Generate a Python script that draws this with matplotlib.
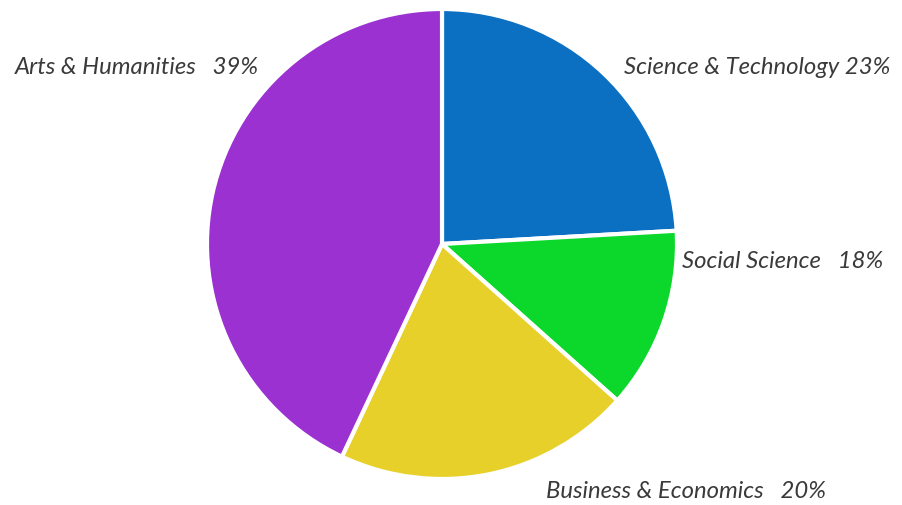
import matplotlib
matplotlib.use("Agg")
import matplotlib.pyplot as plt

categories = ["Science & Technology", "Social Science", "Business & Economics", "Arts & Humanities"]
shares = [24.1, 12.5, 20.4, 43.0]
label_texts = ["Science & Technology 23%", "Social Science   18%", "Business & Economics   20%", "Arts & Humanities   39%"]
colors = ["#0b70c2", "#0bd82b", "#e8d02b", "#9b31d1"]

W, H = 903, 506
fig = plt.figure(figsize=(W / 100, H / 100), dpi=100)
fig.patch.set_facecolor("white")

# pie area in pixels
cx, cy, r = 442, 245, 235
ax = fig.add_axes([(cx - r) / W, (H - cy - r) / H, 2 * r / W, 2 * r / H])
ax.pie(shares, colors=colors, startangle=90, counterclock=False,
       wedgeprops=dict(edgecolor="white", linewidth=3))
ax.set_aspect("auto")
ax.set_xlim(-1.0, 1.0)
ax.set_ylim(-1.0, 1.0)
ax.axis("off")

label_pos = [(624, 68), (682, 262), (546, 492), (15, 68)]
font = dict(family=["Lato", "DejaVu Sans"], style="italic", weight="normal", size=17.2, color="#3a3a3a")
for txt, (x, y) in zip(label_texts, label_pos):
    fig.text(x / W, 1 - y / H, txt, ha="left", va="center", **font)

fig.savefig("out.png", dpi=100, facecolor="white")
